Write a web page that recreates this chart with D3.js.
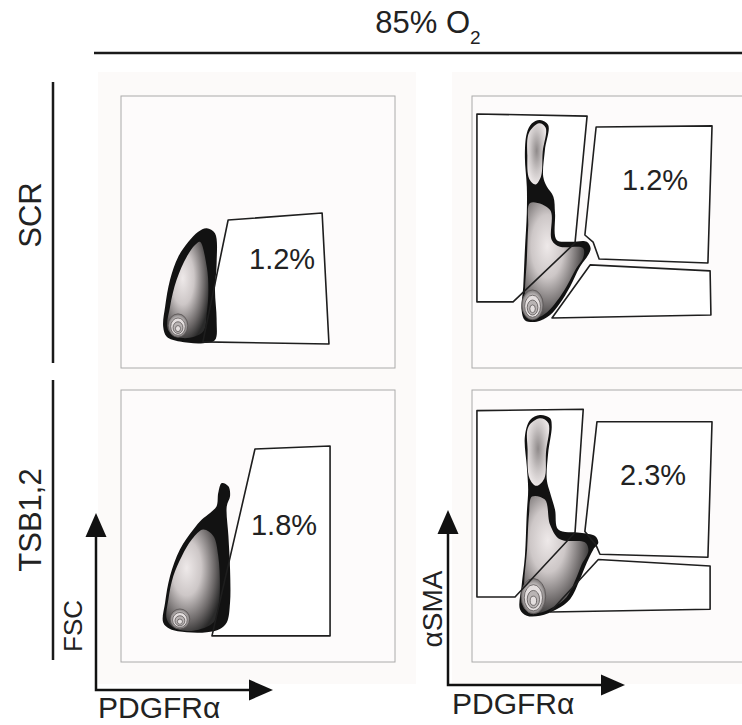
<!DOCTYPE html>
<html>
<head>
<meta charset="utf-8">
<script src="https://cdn.jsdelivr.net/npm/d3@7"></script>
<style>
  html, body { margin: 0; padding: 0; background: #fff; }
  svg { display: block; font-family: "Liberation Sans", Arial, sans-serif; }
</style>
</head>
<body>
<div id="chart"></div>
<script>
// ----------------------------
// Data (plot units 0-100 on both axes of every panel)
// ----------------------------
const titleText = "85% O";
const titleSub = "2";
const rowLabels = ["SCR", "TSB1,2"];
const xAxisLabels = ["PDGFRα", "PDGFRα"];
const yAxisLabels = ["FSC", "αSMA"];

const gateValues = ["1.2%", "1.2%", "1.8%", "2.3%"];
const gateLabelAt = [[58.8, 40.4], [66.8, 69.1], [59.5, 50.4], [66.1, 68.9]];

// gate polygons per panel
const gates = [
    [[[39.1, 54.4], [73.4, 57.0], [75.9, 8.8], [29.9, 9.6]]],
    [
        [[1.8, 93.4], [42.0, 92.6], [37.6, 46.0], [15.0, 24.3], [1.8, 24.3]],
        [[45.3, 88.6], [87.6, 89.0], [86.1, 38.6], [46.4, 40.1], [44.2, 46.3], [41.2, 48.9]],
        [[43.1, 37.9], [86.9, 35.7], [87.2, 19.5], [29.2, 18.4]]
    ],
    [[[48.9, 78.3], [76.3, 79.4], [76.3, 9.6], [33.2, 9.6]]],
    [
        [[1.8, 92.4], [40.6, 92.9], [37.6, 47.6], [15.7, 23.9], [1.8, 23.9]],
        [[45.6, 88.3], [87.6, 88.3], [86.1, 38.5], [46.7, 39.6], [45.3, 42.9], [41.2, 48.0]],
        [[46.1, 37.7], [86.9, 35.3], [86.9, 19.4], [28.5, 18.4]]
    ]
];

// outer (lowest) density contour per panel
const blobOutline = [
    [[31.3, 51.4], [34.3, 49.5], [34.9, 38.5], [34.3, 28.7], [34.9, 17.6], [34.3, 10.3], [30.0, 9.1],
     [21.5, 9.7], [16.7, 11.5], [15.4, 15.2], [16.1, 22.5], [17.9, 32.4], [20.9, 40.9], [24.6, 46.4], [28.2, 50.1]],
    [[24.8, 91.2], [27.8, 89.3], [26.6, 80.1], [26.0, 70.3], [27.3, 66.7], [29.7, 63.0], [30.3, 56.9],
     [30.9, 47.1], [35.8, 46.4], [41.9, 46.4], [43.3, 44.0], [42.4, 41.5], [39.4, 37.2], [35.8, 29.9],
     [32.1, 23.8], [28.5, 19.5], [23.6, 17.0], [19.3, 17.6], [18.1, 21.3], [18.7, 29.9], [19.3, 43.4],
     [20.0, 56.9], [20.0, 66.7], [19.3, 77.7], [20.0, 86.3], [21.8, 89.9]],
    [[36.8, 65.8], [39.2, 64.6], [39.8, 60.9], [38.6, 57.3], [39.2, 46.3], [39.8, 34.1], [39.8, 21.9],
     [38.6, 14.5], [36.1, 12.1], [31.3, 10.9], [24.0, 10.9], [17.9, 12.1], [15.4, 14.5], [16.1, 21.9],
     [17.9, 31.6], [21.5, 41.4], [26.4, 48.7], [29.5, 52.4], [32.5, 54.8], [34.9, 57.3], [35.5, 62.2]],
    [[24.8, 90.8], [28.5, 89.6], [29.1, 86.6], [27.8, 76.8], [27.3, 67.0], [28.5, 62.2], [30.3, 56.0],
     [31.5, 48.7], [39.4, 47.5], [44.9, 46.3], [46.1, 43.8], [44.3, 41.4], [41.9, 36.5], [39.4, 30.4],
     [35.8, 23.1], [30.9, 19.4], [24.8, 17.0], [20.0, 17.0], [17.5, 19.4], [18.1, 27.9], [19.3, 38.9],
     [20.0, 54.8], [20.5, 63.4], [20.0, 71.9], [19.3, 82.9], [21.2, 89.0]]
];

// higher density regions inside the outer contour
const blobInner = [
    [[[28.8, 46.4], [31.3, 37.2], [31.9, 28.7], [31.3, 20.2], [29.9, 13.3], [22.6, 11.0], [17.2, 14.0],
      [17.9, 22.5], [20.3, 32.4], [24.0, 40.9], [27.0, 45.2]]],
    [
        [[24.5, 90.0], [26.9, 88.3], [25.8, 79.5], [25.2, 70.5], [23.2, 67.5], [20.9, 69.5], [20.2, 78.0], [20.8, 86.5]],
        [[21.2, 60.7], [28.5, 58.1], [29.1, 47.1], [32.1, 44.6], [40.5, 44.1], [40.6, 40.6], [38.0, 36.6],
         [34.5, 30.0], [30.9, 24.5], [27.5, 20.6], [23.4, 18.4], [20.0, 19.6], [19.3, 26.2], [20.0, 39.7], [20.5, 51.9]]
    ],
    [[[30.0, 48.7], [33.7, 46.3], [35.5, 38.9], [36.1, 27.9], [35.5, 19.4], [33.7, 14.5], [26.4, 11.5],
      [19.1, 12.7], [16.7, 15.8], [17.3, 23.1], [19.1, 31.6], [22.2, 38.9], [25.9, 45.1]]],
    [
        [[24.8, 89.6], [27.9, 87.8], [27.0, 77.0], [26.4, 67.5], [23.5, 64.8], [21.0, 67.5], [20.3, 78.0], [20.6, 86.5]],
        [[21.9, 60.8], [26.6, 59.7], [28.5, 50.5], [32.1, 45.1], [41.2, 44.0], [42.5, 41.0], [40.0, 35.8],
         [37.8, 30.3], [34.5, 23.8], [30.0, 20.4], [24.5, 18.1], [19.3, 19.4], [19.0, 28.6], [20.1, 41.4], [20.8, 54.2]]
    ]
];

// density peak (centre and half-extent, plot units)
const cores = [[20.8, 15.6], [22.1, 23.2], [21.5, 15.8], [22.4, 24.2]];
const coreExtent = [[3.6, 4.3], [3.9, 5.5], [3.6, 3.7], [4.5, 6.5]];
const ringLevels = [1, 0.74, 0.5, 0.26];

// ----------------------------
// Layout
// ----------------------------
const width = 742;
const height = 725;
const boxW = 274;
const boxH = 272;
const colLeft = [121, 472];
const rowTop = [96, 390];

const svg = d3.select("#chart").append("svg")
    .attr("width", width)
    .attr("height", height)
    .attr("viewBox", [0, 0, width, height]);

const defs = svg.append("defs");

function addRadial(id, cx, cy, r, stops) {
    defs.append("radialGradient")
        .attr("id", id).attr("cx", cx).attr("cy", cy).attr("r", r)
        .selectAll("stop")
        .data(stops)
        .join("stop")
            .attr("offset", d => d[0])
            .attr("stop-color", d => d[1]);
}
addRadial("bodyShade", "38%", "38%", "68%", [[0, "#eee9e9"], [0.4, "#cdc7c7"], [0.78, "#6a6666"], [1, "#2a2a2a"]]);
addRadial("lobeShade", "50%", "45%", "55%", [[0, "#8f8a8a"], [0.6, "#cbc6c6"], [1, "#ebe6e6"]]);
addRadial("coreShade", "50%", "50%", "50%", [[0, "#ffffff"], [0.55, "#dad5d5"], [1, "#7a7676"]]);

// panel backgrounds
[[98, 416], [452, 742]].forEach(([x0, x1]) => {
    svg.append("rect")
        .attr("x", x0).attr("y", 72)
        .attr("width", x1 - x0).attr("height", 612)
        .attr("fill", "#fcfaf9");
});

// title and rule
const title = svg.append("text")
    .attr("x", 428)
    .attr("y", 33)
    .attr("text-anchor", "middle")
    .attr("font-size", 31)
    .attr("fill", "#222")
    .text(titleText);
title.append("tspan")
    .attr("dy", 11)
    .attr("font-size", 19)
    .text(titleSub);

svg.append("line")
    .attr("x1", 94).attr("x2", width)
    .attr("y1", 53).attr("y2", 53)
    .attr("stroke", "#1a1a1a").attr("stroke-width", 2.5);

// row labels with bars
const rowBars = [[82, 363], [380, 660]];
const rowCenters = [215, 520];
rowLabels.forEach((label, i) => {
    svg.append("line")
        .attr("x1", 53).attr("x2", 53)
        .attr("y1", rowBars[i][0]).attr("y2", rowBars[i][1])
        .attr("stroke", "#1a1a1a").attr("stroke-width", 2.5);
    svg.append("text")
        .attr("transform", `translate(41,${rowCenters[i]}) rotate(-90)`)
        .attr("text-anchor", "middle")
        .attr("font-size", 31)
        .attr("fill", "#222")
        .text(label);
});

// ----------------------------
// Panels
// ----------------------------
d3.range(4).forEach(i => {
    const row = Math.floor(i / 2);
    const col = i % 2;

    const x = d3.scaleLinear().domain([0, 100]).range([colLeft[col], colLeft[col] + boxW]);
    const y = d3.scaleLinear().domain([0, 100]).range([rowTop[row] + boxH, rowTop[row]]);

    const smooth = d3.line().x(d => x(d[0])).y(d => y(d[1])).curve(d3.curveCatmullRomClosed.alpha(0.5));
    const poly = d3.line().x(d => x(d[0])).y(d => y(d[1])).curve(d3.curveLinearClosed);

    const g = svg.append("g");

    // plot frame
    g.append("rect")
        .attr("x", x(0)).attr("y", y(100))
        .attr("width", x(100) - x(0)).attr("height", y(0) - y(100))
        .attr("fill", "#fdfbfb")
        .attr("stroke", "#aaa")
        .attr("stroke-width", 1);

    // gate fills
    g.selectAll("path.gatefill")
        .data(gates[i])
        .join("path")
            .attr("class", "gatefill")
            .attr("d", poly)
            .attr("fill", "#fff");

    // density: outer contour, inner shading, peak rings
    g.append("path")
        .attr("d", smooth(blobOutline[i]))
        .attr("fill", "#121212");

    g.selectAll("path.inner")
        .data(blobInner[i])
        .join("path")
            .attr("class", "inner")
            .attr("d", smooth)
            .attr("fill", (d, k) => blobInner[i].length > 1 && k === 0 ? "url(#lobeShade)" : "url(#bodyShade)");

    const [cx, cy] = cores[i];
    const [ex, ey] = coreExtent[i];
    g.selectAll("ellipse.ring")
        .data(ringLevels)
        .join("ellipse")
            .attr("class", "ring")
            .attr("cx", x(cx))
            .attr("cy", d => y(cy - ey * (1 - d) * 0.35))
            .attr("rx", d => x(ex * d) - x(0))
            .attr("ry", d => y(0) - y(ey * d))
            .attr("fill", (d, k) => k === 0 ? "url(#coreShade)" : (k % 2 ? "#e4dfdf" : "#b9b4b4"))
            .attr("stroke", "#5a5656")
            .attr("stroke-width", 0.8);

    // gate outlines on top
    g.selectAll("path.gate")
        .data(gates[i])
        .join("path")
            .attr("class", "gate")
            .attr("d", poly)
            .attr("fill", "none")
            .attr("stroke", "#1e1e1e")
            .attr("stroke-width", 1.6)
            .attr("stroke-linejoin", "round");

    // gate percentage
    g.append("text")
        .attr("x", x(gateLabelAt[i][0]))
        .attr("y", y(gateLabelAt[i][1]))
        .attr("dy", "0.36em")
        .attr("text-anchor", "middle")
        .attr("font-size", 29)
        .attr("fill", "#222")
        .text(gateValues[i]);
});

// ----------------------------
// Axis arrows (bottom row only)
// ----------------------------
const arrowCorner = [[96, 690], [448, 685]];
const arrowTips = [[273, 513], [625, 510]];
const headLen = 24;
const headHalf = 10.5;

arrowCorner.forEach(([ax, ay], c) => {
    const [tx, ty] = arrowTips[c];
    const a = svg.append("g").attr("fill", "#111").attr("stroke", "#111");
    a.append("path")
        .attr("d", `M${ax},${ty + headLen - 2}V${ay}H${tx - headLen + 2}`)
        .attr("fill", "none")
        .attr("stroke-width", 2.5);
    a.append("path")
        .attr("d", `M${ax},${ty}L${ax - headHalf},${ty + headLen}L${ax + headHalf},${ty + headLen}Z`)
        .attr("stroke", "none");
    a.append("path")
        .attr("d", `M${tx},${ay}L${tx - headLen},${ay - headHalf}L${tx - headLen},${ay + headHalf}Z`)
        .attr("stroke", "none");

    svg.append("text")
        .attr("x", c === 0 ? 98 : 452)
        .attr("y", c === 0 ? 718 : 714)
        .attr("font-size", 30)
        .attr("fill", "#222")
        .text(xAxisLabels[c]);

    svg.append("text")
        .attr("transform", `translate(${c === 0 ? 82 : 442},${c === 0 ? 626 : 609}) rotate(-90)`)
        .attr("text-anchor", "middle")
        .attr("font-size", c === 0 ? 26 : 28)
        .attr("fill", "#222")
        .text(yAxisLabels[c]);
});
</script>
</body>
</html>
